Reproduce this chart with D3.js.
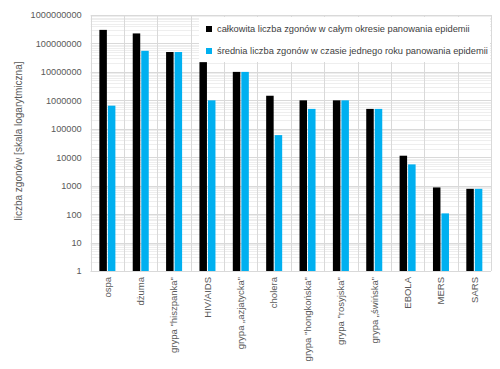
<!DOCTYPE html>
<html><head><meta charset="utf-8">
<script src="https://cdn.jsdelivr.net/npm/d3@7"></script>
<style>body{margin:0;background:#fff}text{font-family:"Liberation Sans",Arial,sans-serif}</style>
</head><body><svg id="c" width="500" height="369"></svg>
<script>
const categories = ["ospa","dżuma","grypa \"hiszpanka\"","HIV/AIDS","grypa „azjatycka”","cholera","grypa \"hongkońska\"","grypa \"rosyjska\"","grypa „świńska”","EBOLA","MERS","SARS"];
const totalDeaths = [300000000,225000000,50000000,22000000,10000000,1450000,1000000,1000000,500000,11300,866,774];
const yearlyDeaths = [650000,55000000,50000000,1000000,10000000,60000,500000,1000000,500000,5600,106,774];
const seriesNames = ["całkowita liczba zgonów w całym okresie panowania epidemii","średnia liczba zgonów w czasie jednego roku panowania epidemii"];
const tickValues = [1,10,100,1000,10000,100000,1000000,10000000,100000000,1000000000];
const colors = ["#000000","#00b0f0"];

const svg = d3.select("#c");
const L=90.7, R=491, T=15, B=271;
const y = d3.scaleLog().domain([1,1e9]).range([B,T]);
const x0 = d3.scaleBand().domain(categories).range([L,R]).paddingInner(0.52).paddingOuter(0.26);
const x1 = d3.scaleBand().domain([0,1]).range([0,x0.bandwidth()]).paddingInner(0.12);

const minor=[];
for(let e=0;e<9;e++) for(let m=2;m<=9;m++) minor.push(m*Math.pow(10,e));
svg.append("g").selectAll("line").data(minor).join("line")
  .attr("x1",L).attr("x2",R).attr("y1",d=>Math.round(y(d))+0.5).attr("y2",d=>Math.round(y(d))+0.5)
  .attr("stroke","#eeeeee").attr("stroke-width",1);
svg.append("g").selectAll("line").data(tickValues).join("line")
  .attr("x1",L).attr("x2",R).attr("y1",d=>Math.round(y(d))+0.5).attr("y2",d=>Math.round(y(d))+0.5)
  .attr("stroke","#d9d9d9").attr("stroke-width",1);
const step = x0.step();
const vb = d3.range(categories.length+1).map(i=>L+i*step);
svg.append("g").selectAll("line").data(vb).join("line")
  .attr("x1",d=>Math.round(d)+0.5).attr("x2",d=>Math.round(d)+0.5).attr("y1",T).attr("y2",B)
  .attr("stroke","#d9d9d9").attr("stroke-width",1);

const groups = svg.append("g").selectAll("g").data(categories).join("g")
  .attr("transform",d=>`translate(${x0(d)},0)`);
groups.selectAll("rect").data((d,i)=>[totalDeaths[i],yearlyDeaths[i]]).join("rect")
  .attr("x",(d,j)=>x1(j)).attr("width",x1.bandwidth())
  .attr("y",d=>y(d)).attr("height",d=>B-y(d))
  .attr("fill",(d,j)=>colors[j]);

svg.append("line").attr("x1",L).attr("x2",R).attr("y1",B+0.5).attr("y2",B+0.5).attr("stroke","#d9d9d9");

const yAxis = d3.axisLeft(y).tickValues(tickValues).tickFormat(d3.format("d")).tickSize(0).tickPadding(9);
const ga = svg.append("g").attr("transform",`translate(${L},0)`).call(yAxis);
ga.select(".domain").remove();
ga.selectAll("text").attr("font-size","9.2px").attr("fill","#595959").attr("font-family","Liberation Sans, Arial, sans-serif");

const xAxis = d3.axisBottom(x0).tickSize(0).tickPadding(0);
const gx = svg.append("g").attr("transform",`translate(0,${B})`).call(xAxis);
gx.select(".domain").remove();
gx.selectAll("text").attr("font-size","9.5px").attr("fill","#595959")
  .attr("font-family","Liberation Sans, Arial, sans-serif")
  .attr("text-anchor","end").attr("dy","0.35em")
  .attr("transform","translate(0,6) rotate(-90)").attr("x",0).attr("y",0);

svg.append("text").attr("transform","translate(22,141) rotate(-90)").attr("text-anchor","middle")
  .attr("font-size","10px").attr("fill","#595959").text("liczba zgonów [skala logarytmiczna]");

const lg = svg.append("g");
lg.append("rect").attr("x",199).attr("y",17).attr("width",291).attr("height",45).attr("fill","#fff");
const li = lg.selectAll("g").data(seriesNames).join("g").attr("transform",(d,i)=>`translate(206,${29+i*22})`);
li.append("rect").attr("x",0).attr("y",-3).attr("width",6).attr("height",6).attr("fill",(d,i)=>colors[i]);
li.append("text").attr("x",11).attr("y",0).attr("dy","0.35em").attr("font-size","9.3px").attr("fill","#404040").text(d=>d);
</script></body></html>
